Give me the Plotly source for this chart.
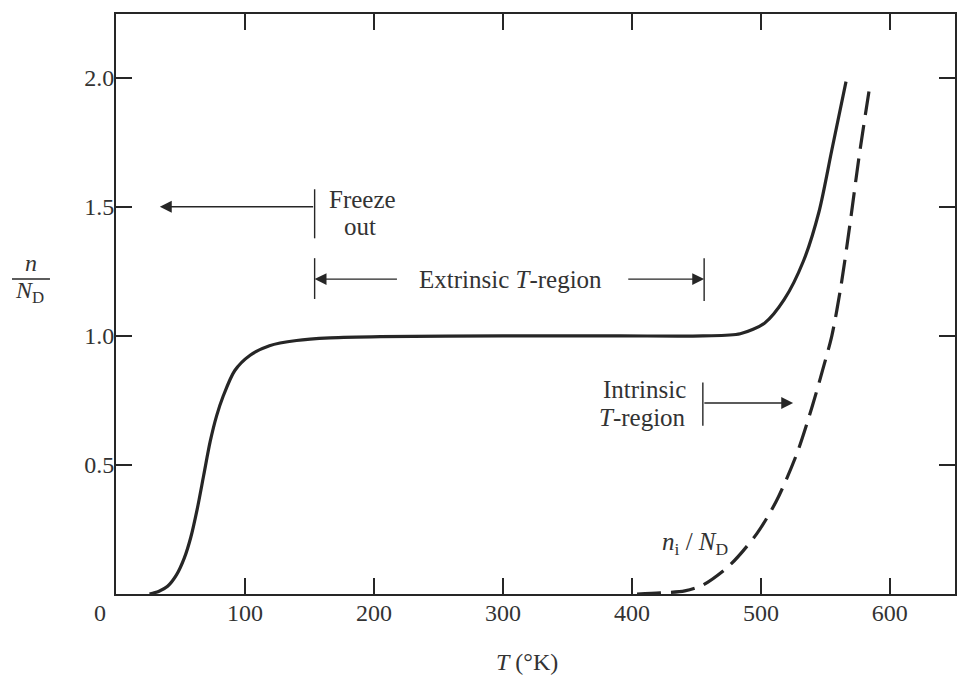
import plotly.graph_objects as go

# ---- data ----
T_n = [26, 33, 40, 47, 53, 58, 63, 68, 73, 78, 83, 92, 104, 119, 140, 166, 205,
       300, 391, 455, 484, 503, 518, 533, 545, 555, 566]
n_over_ND = [0.0, 0.01, 0.03, 0.075, 0.14, 0.22, 0.33, 0.46, 0.59, 0.69, 0.765,
             0.865, 0.925, 0.962, 0.982, 0.992, 0.997, 1.0, 1.0, 1.0, 1.008,
             1.05, 1.14, 1.29, 1.48, 1.72, 1.985]

T_i = [404, 422, 441, 455, 476, 497, 512, 528, 540, 548, 555, 562, 569, 576, 584.5]
ni_over_ND = [0.0, 0.004, 0.012, 0.035, 0.112, 0.235, 0.36, 0.545, 0.73, 0.87,
              1.0, 1.19, 1.43, 1.69, 1.97]

x_tickvals = [100, 200, 300, 400, 500, 600]
x_ticktext = ["100", "200", "300", "400", "500", "600"]
y_tickvals = [0.5, 1.0, 1.5, 2.0]
y_ticktext = ["0.5", "1.0", "1.5", "2.0"]

# region boundaries (T) and arrow levels
freeze_T = 154
freeze_arrow_end = 34
freeze_level = 1.5
extrinsic_end_T = 456
extrinsic_level = 1.22
intrinsic_T = 455
intrinsic_arrow_end = 525
intrinsic_level = 0.74

FONT = "Liberation Serif"
INK = "#262626"
TXT = "#333333"

fig = go.Figure()
fig.add_trace(go.Scatter(x=T_n, y=n_over_ND, mode="lines",
                         line=dict(color=INK, width=3.2, shape="spline", smoothing=0.8),
                         hoverinfo="skip", showlegend=False))
fig.add_trace(go.Scatter(x=T_i, y=ni_over_ND, mode="lines",
                         line=dict(color=INK, width=3.2, dash="24px,10px",
                                   shape="spline", smoothing=0.8),
                         hoverinfo="skip", showlegend=False))

# vertical bars marking region limits
bars = [
    (freeze_T, 1.378, 1.568),
    (freeze_T, 1.143, 1.301),
    (extrinsic_end_T, 1.135, 1.301),
    (intrinsic_T, 0.652, 0.819),
]
for x0, ya, yb in bars:
    fig.add_shape(type="line", xref="x", yref="y", x0=x0, x1=x0, y0=ya, y1=yb,
                  line=dict(color=INK, width=1.4))

# arrows
arrows = [
    (freeze_arrow_end, freeze_T, freeze_level),
    (freeze_T, 219, extrinsic_level),
    (extrinsic_end_T, 396, extrinsic_level),
    (intrinsic_arrow_end, intrinsic_T, intrinsic_level),
]
for head, tail, lvl in arrows:
    fig.add_annotation(x=head, y=lvl, ax=tail, ay=lvl, xref="x", yref="y",
                       axref="x", ayref="y", text="", showarrow=True,
                       arrowhead=2, arrowsize=1.7, arrowwidth=1.4,
                       arrowcolor=INK, standoff=0)

lab = dict(family=FONT, size=25, color=TXT)
text_items = [
    ("Freeze", 191, 1.529, "center"),
    ("out", 189, 1.425, "center"),
    ("Extrinsic <i>T</i>-region", 306, extrinsic_level, "center"),
    ("Intrinsic", 443.5, 0.792, "right"),
    ("<i>T</i>-region", 443.5, 0.683, "right"),
    ("<i>n</i><sub>i</sub> / <i>N</i><sub>D</sub>", 449, 0.197, "center"),
]
for txt, tx, ty, anc in text_items:
    fig.add_annotation(x=tx, y=ty, xref="x", yref="y", text=txt,
                       showarrow=False, font=lab, xanchor=anc, yanchor="middle")

# origin label, axis titles
small = dict(family=FONT, size=24, color=TXT)
fig.add_annotation(x=-0.0191, y=-0.0327, xref="paper", yref="paper", text="0",
                   showarrow=False, font=small, xanchor="center", yanchor="middle")
fig.add_annotation(x=0.4899, y=-0.117, xref="paper", yref="paper",
                   text="<i>T</i> (°K)", showarrow=False, font=small,
                   xanchor="center", yanchor="middle")
fig.add_annotation(x=-0.1013, y=0.57, xref="paper", yref="paper",
                   text="<i>n</i>", showarrow=False, font=small,
                   xanchor="center", yanchor="middle")
fig.add_annotation(x=-0.103, y=0.52, xref="paper", yref="paper",
                   text="<i>N</i><sub>D</sub>", showarrow=False, font=small,
                   xanchor="center", yanchor="middle")
fig.add_shape(type="line", xref="paper", yref="paper", x0=-0.124, x1=-0.0787,
              y0=0.543, y1=0.543, line=dict(color=INK, width=1.4))

axis_common = dict(showgrid=False, zeroline=False, showline=True,
                   linecolor=INK, linewidth=1.7, mirror="ticks",
                   ticks="inside", ticklen=16, tickwidth=1.7, tickcolor=INK,
                   tickfont=dict(family=FONT, size=24, color=TXT))
fig.update_xaxes(range=[0, 650.5], tickvals=x_tickvals, ticktext=x_ticktext,
                 ticklabelstandoff=-4, **axis_common)
fig.update_yaxes(range=[0, 2.247], tickvals=y_tickvals, ticktext=y_ticktext,
                 ticklabelstandoff=-5, **axis_common)

# the page body adds an 8px offset, so the figure is 8px smaller
fig.update_layout(width=957, height=667, margin=dict(l=108, r=10, t=4, b=81),
                  paper_bgcolor="white", plot_bgcolor="white",
                  font=dict(family=FONT, color=TXT))

fig.write_html("out.html")
